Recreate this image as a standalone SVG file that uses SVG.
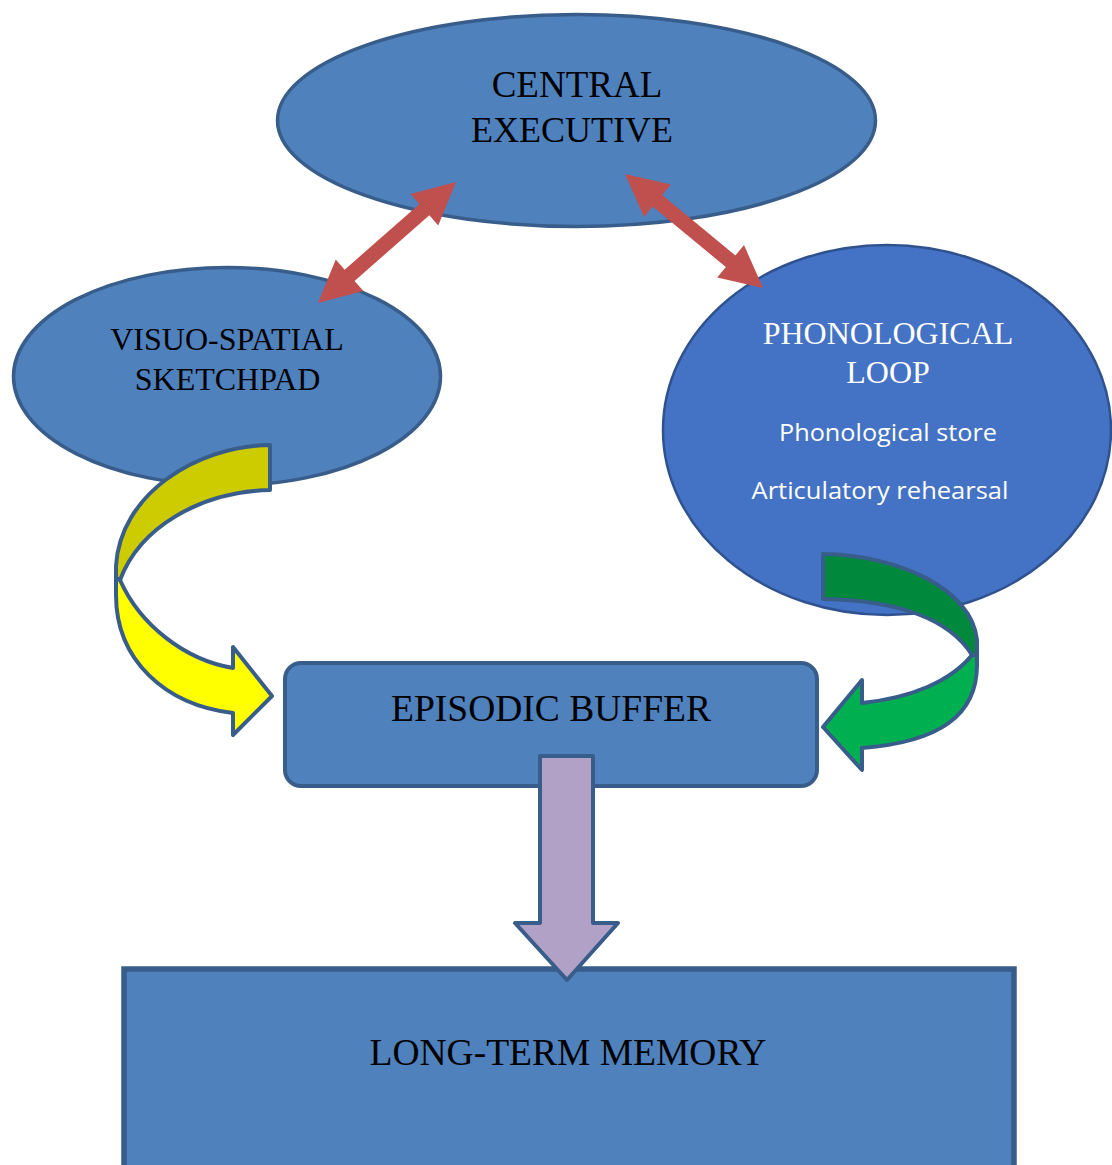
<svg xmlns="http://www.w3.org/2000/svg" width="1112" height="1165" viewBox="0 0 1112 1165">
<style>
.node{fill:#4F81BD;stroke:#385D8A;stroke-width:3.5}
.serif{font-family:"Liberation Serif","Times New Roman",serif;text-anchor:middle;fill:#000}
.sans{font-family:"Open Sans","Noto Sans",sans-serif;text-anchor:middle;fill:#fff}
.red{fill:#C0504D;stroke:none}
.band{stroke:#385D8A;stroke-width:4;stroke-linejoin:round}
</style>
<rect width="1112" height="1165" fill="#fff"/>
<g id="long-term-memory">
<rect x="124" y="969" width="890" height="220" fill="#4F81BD" stroke="#385D8A" stroke-width="5.5"/>
<text class="serif" x="568" y="1065" font-size="37.5">LONG-TERM MEMORY</text>
</g>
<g id="episodic-buffer">
<rect x="285" y="663" width="532" height="123" rx="16" ry="16" fill="#4F81BD" stroke="#385D8A" stroke-width="4"/>
<text class="serif" x="551" y="721" font-size="37.5">EPISODIC BUFFER</text>
</g>
<g id="central-executive">
<ellipse class="node" cx="576.5" cy="120.5" rx="299" ry="106"/>
<text class="serif" x="577" y="97" font-size="37">CENTRAL</text>
<text class="serif" x="572" y="142" font-size="36">EXECUTIVE</text>
</g>
<g id="visuo-spatial-sketchpad">
<ellipse class="node" cx="227" cy="376.5" rx="213.5" ry="109"/>
</g>
<g id="phonological-loop">
<ellipse cx="887" cy="430" rx="224" ry="185" fill="#4472C4" stroke="#2F528F" stroke-width="2.5"/>
<text class="serif" x="888" y="344" font-size="32" style="fill:#fff">PHONOLOGICAL</text>
<text class="serif" x="888" y="383" font-size="32" style="fill:#fff">LOOP</text>
<text class="sans" x="888" y="441" font-size="24" textLength="218" lengthAdjust="spacingAndGlyphs">Phonological store</text>
<text class="sans" x="880" y="499" font-size="24" textLength="257" lengthAdjust="spacingAndGlyphs">Articulatory rehearsal</text>
</g>
<g id="connectors">
<path class="red" transform="translate(318,303) rotate(-41.24)" d="M0,0 L42,-21 L42,-7.5 L141.5,-7.5 L141.5,-21 L183.5,0 L141.5,21 L141.5,7.5 L42,7.5 L42,21 Z"/>
<path class="red" transform="translate(625,174) rotate(39.56)" d="M0,0 L42,-21 L42,-7.5 L137,-7.5 L137,-21 L179,0 L137,21 L137,7.5 L42,7.5 L42,21 Z"/>
<path class="band" fill="#CCCC00" d="M270,445 C195,446 120,495 116,566 L116,578 L120,580 C140,527 200,492 270,490 Z"/>
<path class="band" fill="#FFFF00" d="M120,580 C140,625 185,660 233,668 L233,647 L272,696 L233,735 L233,713 C165,705 116,660 116,595 L116,578 Z"/>
<path class="band" fill="#00893C" d="M823,554 C900,555 972,590 977,640 L977,655 L972,655 C950,620 900,600 823,599 Z"/>
<path class="band" fill="#00B050" d="M972,655 C950,682 910,698 862,703 L862,680 L823,727 L862,770 L862,748 C940,742 977,715 977,665 L977,655 Z"/>
<path class="band" fill="#B2A1C7" d="M540,756 L593,756 L593,923 L618,923 L567,980 L515,923 L540,923 Z"/>
</g>
<g id="visuo-spatial-sketchpad-label">
<text class="serif" x="227" y="350" font-size="32">VISUO-SPATIAL</text>
<text class="serif" x="227.5" y="390" font-size="32">SKETCHPAD</text>
</g>
</svg>
